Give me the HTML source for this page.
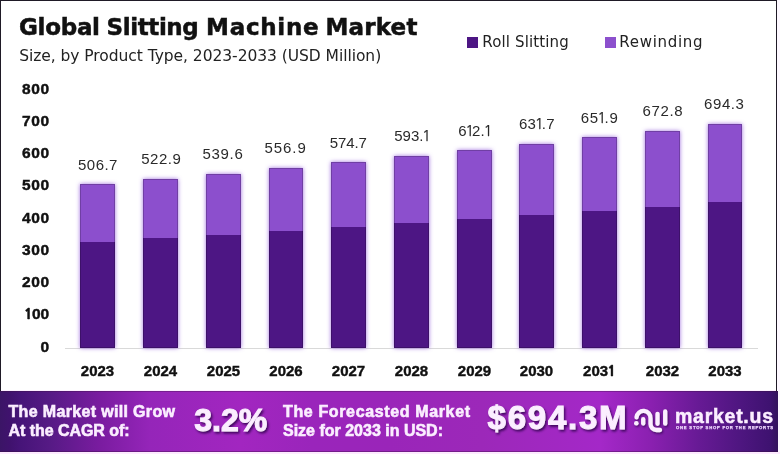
<!DOCTYPE html>
<html><head><meta charset="utf-8"><style>
html,body{margin:0;padding:0;background:#fff;}
body{width:780px;height:454px;overflow:hidden;position:relative;}
svg{position:absolute;left:0;top:0;display:block;will-change:transform;}
text{white-space:pre;}
.title{font-family:"DejaVu Sans",sans-serif;font-weight:700;font-size:23px;fill:#111;stroke:#111;stroke-width:0.5px;}
.sub{font-family:"DejaVu Sans",sans-serif;font-size:15.5px;fill:#222;}
.leg{font-family:"DejaVu Sans",sans-serif;font-size:15px;fill:#222;}
.val{font-family:"Liberation Sans",sans-serif;font-size:15px;fill:#2a2a2a;letter-spacing:0.7px;}
.yr{font-family:"Liberation Sans",sans-serif;font-weight:700;font-size:15px;fill:#111;stroke:#111;stroke-width:0.4px;}
.ytk{font-family:"Liberation Sans",sans-serif;font-weight:700;font-size:15.5px;fill:#111;stroke:#111;stroke-width:0.45px;}
.ft{font-family:"Liberation Sans",sans-serif;font-weight:700;font-size:16px;fill:#fbeeff;stroke:#fbeeff;stroke-width:0.6px;}
.big{font-family:"Liberation Sans",sans-serif;font-weight:700;font-size:33px;fill:#fbeeff;stroke:#fbeeff;stroke-width:1px;}
.big2{font-family:"DejaVu Sans",sans-serif;font-weight:700;font-size:31px;fill:#fbeeff;stroke:#fbeeff;stroke-width:0.6px;}
.logo{font-family:"Liberation Sans",sans-serif;font-weight:700;font-size:19.5px;fill:#fbeeff;stroke:#fbeeff;stroke-width:0.5px;}
.tag{font-family:"Liberation Sans",sans-serif;font-weight:700;font-size:4.2px;fill:#f0d8ff;stroke:#f0d8ff;stroke-width:0.25px;}
</style></head><body>
<svg width="780" height="454" viewBox="0 0 780 454">
<defs>
<linearGradient id="fg" x1="0" y1="0" x2="778" y2="0" gradientUnits="userSpaceOnUse">
<stop offset="0" stop-color="#3b1566"/>
<stop offset="0.013" stop-color="#40126e"/>
<stop offset="0.026" stop-color="#461478"/>
<stop offset="0.064" stop-color="#561a85"/>
<stop offset="0.129" stop-color="#7a1ca0"/>
<stop offset="0.193" stop-color="#9525b9"/>
<stop offset="0.309" stop-color="#a226c0"/>
<stop offset="0.40" stop-color="#9a25bb"/>
<stop offset="0.50" stop-color="#9a25b9"/>
<stop offset="0.62" stop-color="#9c28b9"/>
<stop offset="0.772" stop-color="#a428c8"/>
<stop offset="0.837" stop-color="#8a20b0"/>
<stop offset="0.90" stop-color="#661a94"/>
<stop offset="0.952" stop-color="#4e1680"/>
<stop offset="0.99" stop-color="#3e1270"/>
<stop offset="1" stop-color="#33125c"/>
</linearGradient>
<filter id="glow" x="-20%" y="-5%" width="140%" height="110%">
<feGaussianBlur in="SourceAlpha" stdDeviation="2" result="b"/>
<feFlood flood-color="#a070e0" flood-opacity="1"/>
<feComposite in2="b" operator="in" result="g"/>
<feMerge><feMergeNode in="g"/><feMergeNode in="SourceGraphic"/></feMerge>
</filter>
<filter id="tsh" x="-10%" y="-10%" width="130%" height="140%">
<feDropShadow dx="1.5" dy="2" stdDeviation="1.3" flood-color="#2a0448" flood-opacity="0.8"/>
</filter>
<filter id="lsh" x="-10%" y="-10%" width="130%" height="140%">
<feDropShadow dx="1" dy="1.3" stdDeviation="0.8" flood-color="#2a0648" flood-opacity="0.8"/>
</filter>
</defs>
<rect x="0" y="0" width="780" height="454" fill="#fff"/>
<!-- frame -->
<rect x="0" y="0" width="777" height="1" fill="#1f1a26"/>
<rect x="0" y="0" width="1" height="391" fill="#1f1a26"/>
<rect x="776" y="0" width="1" height="391" fill="#1f1a26"/>
<rect x="777" y="0" width="3" height="454" fill="#fdf8ff"/>
<rect x="0" y="452" width="780" height="2" fill="#fdeaff"/>
<!-- title -->
<text x="19.0" y="35.4" class="title" textLength="81" lengthAdjust="spacing">Global</text>
<text x="106.6" y="35.4" class="title" textLength="92.2" lengthAdjust="spacing">Slitting</text>
<text x="206.1" y="35.4" class="title" textLength="112.5" lengthAdjust="spacing">Machine</text>
<text x="325.4" y="35.4" class="title" textLength="92" lengthAdjust="spacing">Market</text>
<text x="19.2" y="60.7" class="sub" textLength="362" lengthAdjust="spacing">Size, by Product Type, 2023-2033 (USD Million)</text>
<rect x="467" y="37" width="11" height="11" fill="#4d1684"/>
<text x="482.3" y="46.8" class="leg" textLength="86.4" lengthAdjust="spacing">Roll Slitting</text>
<rect x="605" y="37" width="11" height="11" fill="#8c50cd"/>
<text x="619.3" y="46.8" class="leg" textLength="83.3" lengthAdjust="spacing">Rewinding</text>
<!-- axis -->
<text x="49.2" y="351.55" class="ytk" text-anchor="end">0</text><text x="49.2" y="319.33" class="ytk" text-anchor="end"><tspan style="font-family:NanumGothic,sans-serif;font-weight:800;font-size:14.2px">1</tspan><tspan dx="-0.6">00</tspan></text><text x="49.2" y="287.11" class="ytk" textLength="27.3" lengthAdjust="spacing" text-anchor="end">200</text><text x="49.2" y="254.89" class="ytk" textLength="27.3" lengthAdjust="spacing" text-anchor="end">300</text><text x="49.2" y="222.67" class="ytk" textLength="27.3" lengthAdjust="spacing" text-anchor="end">400</text><text x="49.2" y="190.45" class="ytk" textLength="27.3" lengthAdjust="spacing" text-anchor="end">500</text><text x="49.2" y="158.23" class="ytk" textLength="27.3" lengthAdjust="spacing" text-anchor="end">600</text><text x="49.2" y="126.01" class="ytk" textLength="27.3" lengthAdjust="spacing" text-anchor="end">700</text><text x="49.2" y="93.79" class="ytk" textLength="27.3" lengthAdjust="spacing" text-anchor="end">800</text>
<rect x="65" y="348" width="693" height="1" fill="#d9d9d9"/>
<g filter="url(#glow)">
<rect x="80.00" y="184.00" width="35" height="58.00" fill="#8c50cd"/><rect x="80.00" y="242.00" width="35" height="106.00" fill="#4d1684"/><rect x="143.00" y="179.00" width="35" height="59.00" fill="#8c50cd"/><rect x="143.00" y="238.00" width="35" height="110.00" fill="#4d1684"/><rect x="206.00" y="174.00" width="35" height="61.00" fill="#8c50cd"/><rect x="206.00" y="235.00" width="35" height="113.00" fill="#4d1684"/><rect x="269.00" y="168.00" width="34" height="63.00" fill="#8c50cd"/><rect x="269.00" y="231.00" width="34" height="117.00" fill="#4d1684"/><rect x="331.00" y="162.00" width="35" height="65.00" fill="#8c50cd"/><rect x="331.00" y="227.00" width="35" height="121.00" fill="#4d1684"/><rect x="394.00" y="156.00" width="35" height="67.00" fill="#8c50cd"/><rect x="394.00" y="223.00" width="35" height="125.00" fill="#4d1684"/><rect x="457.00" y="150.00" width="35" height="69.00" fill="#8c50cd"/><rect x="457.00" y="219.00" width="35" height="129.00" fill="#4d1684"/><rect x="519.00" y="144.00" width="35" height="71.00" fill="#8c50cd"/><rect x="519.00" y="215.00" width="35" height="133.00" fill="#4d1684"/><rect x="582.00" y="137.00" width="35" height="74.00" fill="#8c50cd"/><rect x="582.00" y="211.00" width="35" height="137.00" fill="#4d1684"/><rect x="645.00" y="131.00" width="35" height="76.00" fill="#8c50cd"/><rect x="645.00" y="207.00" width="35" height="141.00" fill="#4d1684"/><rect x="708.00" y="124.00" width="34" height="78.00" fill="#8c50cd"/><rect x="708.00" y="202.00" width="34" height="146.00" fill="#4d1684"/>
</g>
<g><rect x="80.50" y="184.50" width="34" height="163.00" fill="none" stroke="#000" stroke-opacity="0.2" stroke-width="1"/><rect x="143.50" y="179.50" width="34" height="168.00" fill="none" stroke="#000" stroke-opacity="0.2" stroke-width="1"/><rect x="206.50" y="174.50" width="34" height="173.00" fill="none" stroke="#000" stroke-opacity="0.2" stroke-width="1"/><rect x="269.50" y="168.50" width="33" height="179.00" fill="none" stroke="#000" stroke-opacity="0.2" stroke-width="1"/><rect x="331.50" y="162.50" width="34" height="185.00" fill="none" stroke="#000" stroke-opacity="0.2" stroke-width="1"/><rect x="394.50" y="156.50" width="34" height="191.00" fill="none" stroke="#000" stroke-opacity="0.2" stroke-width="1"/><rect x="457.50" y="150.50" width="34" height="197.00" fill="none" stroke="#000" stroke-opacity="0.2" stroke-width="1"/><rect x="519.50" y="144.50" width="34" height="203.00" fill="none" stroke="#000" stroke-opacity="0.2" stroke-width="1"/><rect x="582.50" y="137.50" width="34" height="210.00" fill="none" stroke="#000" stroke-opacity="0.2" stroke-width="1"/><rect x="645.50" y="131.50" width="34" height="216.00" fill="none" stroke="#000" stroke-opacity="0.2" stroke-width="1"/><rect x="708.50" y="124.50" width="33" height="223.00" fill="none" stroke="#000" stroke-opacity="0.2" stroke-width="1"/></g>
<text x="77.98" y="169.50" class="val" style="letter-spacing:0.49px">506.7</text><text x="141.26" y="164.22" class="val" style="letter-spacing:0.49px">522.9</text><text x="202.57" y="158.50" class="val" style="letter-spacing:0.67px">539.6</text><text x="264.57" y="153.35" class="val" style="letter-spacing:0.91px">556.9</text><text x="329.78" y="147.50" class="val" style="letter-spacing:-0.12px">574.7</text><text x="394.26" y="141.20" class="val" style="letter-spacing:0.03px">593.<tspan dx="-1.5" style="font-family:NanumGothic,sans-serif;stroke:#2a2a2a;stroke-width:0.25px">1</tspan></text><text x="458.13" y="135.90" class="val" style="letter-spacing:0.21px">6<tspan dx="-1.5" style="font-family:NanumGothic,sans-serif;stroke:#2a2a2a;stroke-width:0.25px">1</tspan><tspan dx="-2.5">2</tspan>.<tspan dx="-1.5" style="font-family:NanumGothic,sans-serif;stroke:#2a2a2a;stroke-width:0.25px">1</tspan></text><text x="518.88" y="129.42" class="val" style="letter-spacing:0.34px">63<tspan dx="-1.5" style="font-family:NanumGothic,sans-serif;stroke:#2a2a2a;stroke-width:0.25px">1</tspan><tspan dx="-2.5">.</tspan>7</text><text x="580.87" y="123.10" class="val" style="letter-spacing:0.64px">65<tspan dx="-1.5" style="font-family:NanumGothic,sans-serif;stroke:#2a2a2a;stroke-width:0.25px">1</tspan><tspan dx="-2.5">.</tspan>9</text><text x="642.62" y="116.20" class="val" style="letter-spacing:0.62px">672.8</text><text x="704.11" y="108.50" class="val" style="letter-spacing:0.57px">694.3</text>
<text x="97.50" y="375.8" class="yr" text-anchor="middle">2023</text><text x="160.50" y="375.8" class="yr" text-anchor="middle">2024</text><text x="223.50" y="375.8" class="yr" text-anchor="middle">2025</text><text x="286.00" y="375.8" class="yr" text-anchor="middle">2026</text><text x="348.50" y="375.8" class="yr" text-anchor="middle">2027</text><text x="411.50" y="375.8" class="yr" text-anchor="middle">2028</text><text x="474.50" y="375.8" class="yr" text-anchor="middle">2029</text><text x="536.50" y="375.8" class="yr" text-anchor="middle">2030</text><text x="599.50" y="375.8" class="yr" text-anchor="middle">203<tspan dx="-0.6" style="font-family:NanumGothic,sans-serif;font-weight:800;font-size:13.8px">1</tspan></text><text x="662.50" y="375.8" class="yr" text-anchor="middle">2032</text><text x="725.00" y="375.8" class="yr" text-anchor="middle">2033</text>
<!-- footer -->
<rect x="0" y="391" width="778" height="61" fill="url(#fg)"/>
<rect x="0" y="391" width="778" height="1" fill="#3a1040" opacity="0.35"/>
<rect x="1" y="390" width="775" height="1" fill="#fdf0ff"/>
<rect x="0" y="451" width="778" height="1" fill="#3a1040" opacity="0.4"/>
<text x="8.5" y="416.5" class="ft" textLength="166.5" lengthAdjust="spacing">The Market will Grow</text>
<text x="8.5" y="436" class="ft" textLength="121" lengthAdjust="spacing">At the CAGR of:</text>
<text x="194.3" y="431" class="big" filter="url(#tsh)" style="font-size:32px">3.2%</text>
<text x="283" y="417.1" class="ft" textLength="187" lengthAdjust="spacing">The Forecasted Market</text>
<text x="283" y="436" class="ft" textLength="160" lengthAdjust="spacing">Size for 2033 in USD:</text>
<text x="487.6" y="429.2" class="big" textLength="139" lengthAdjust="spacing" filter="url(#tsh)">$694.3M</text>
<g filter="url(#lsh)" stroke="#fbeeff" stroke-linecap="round" fill="none" stroke-width="4.3">
<circle cx="636.3" cy="423.2" r="2.3" fill="#fbeeff" stroke="none"/>
<path d="M636.5 417.3 A7 7 0 0 1 650.5 418.5 L650.5 424 A6 6 0 0 0 656.5 430 L660 430"/>
<path d="M643.2 419.2 L643.2 423.6"/>
<path d="M657.5 413.8 L657.5 423.8"/>
<path d="M665.2 411.5 L665.2 423.7"/>
</g>
<text x="675" y="423" class="logo" textLength="98" lengthAdjust="spacing">market.us</text>
<text x="676" y="429" class="tag" textLength="97" lengthAdjust="spacing">ONE STOP SHOP FOR THE REPORTS</text>
</svg>
</body></html>
